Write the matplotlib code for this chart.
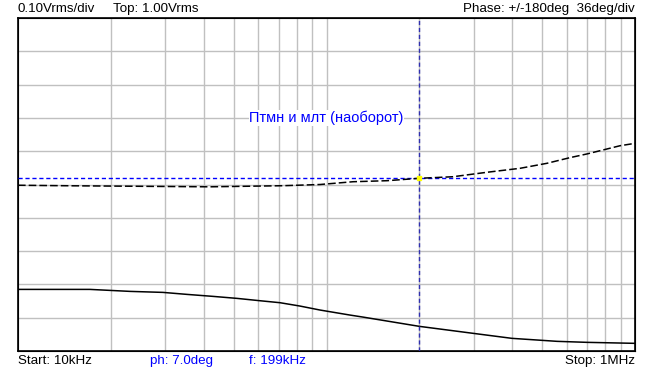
import numpy as np
import matplotlib
matplotlib.use("Agg")
import matplotlib.pyplot as plt

# amplitude trace (frequency in kHz, level in Vrms)
amp_freq = [10, 17.1, 23.1, 29.5, 35.3, 42.9, 51.3, 60.8, 70.7, 82.0, 95.3,
            119, 131, 200, 299, 399, 559, 698, 1000]
amp_vrms = [0.185, 0.185, 0.179, 0.176, 0.170, 0.164, 0.158, 0.151, 0.145,
            0.135, 0.123, 0.108, 0.102, 0.074, 0.053, 0.038, 0.029, 0.026,
            0.023]

# phase trace (frequency in kHz, phase in degrees)
ph_freq = [10, 15.1, 41.9, 72.3, 95.3, 122, 157, 200, 257, 331, 424, 518,
           615, 698, 787, 894, 1000]
ph_deg = [-0.8, -1.4, -2.5, -1.3, 0.0, 3.0, 4.1, 6.7, 8.4, 13.2, 17.5, 22.9,
          29.0, 33.0, 37.3, 41.9, 44.5]

cursor_f = 200     # kHz
cursor_ph = 7.0    # deg

fig = plt.figure(figsize=(6.53, 3.69), dpi=100)
W, H = 653, 369
ax = fig.add_axes([18 / W, (H - 351) / H, 617 / W, 333 / H])
ax.set_xscale("log")
ax.set_xlim(10, 1000)
ax.set_ylim(0, 1.0)

# grid
grid_c = "#c0c0c0"
for dec in (10, 100):
    for k in range(1, 10):
        f = dec * k
        if 10 < f < 1000:
            ax.axvline(f, color=grid_c, lw=1, zorder=1)
for v in np.arange(0.1, 1.0, 0.1):
    ax.axhline(v, color=grid_c, lw=1, zorder=1)

ax.set_xticks([])
ax.set_yticks([])
ax.minorticks_off()
for s in ax.spines.values():
    s.set_color("black")
    s.set_linewidth(1.2)

ax.plot(amp_freq, amp_vrms, color="black", lw=1.1, zorder=4)

ax2 = ax.twinx()
ax2.set_ylim(-180, 180)
ax2.set_yticks([])
ax2.set_xticks([])
ax2.minorticks_off()
ax2.plot(ph_freq, ph_deg, color="black", lw=1.1, ls=(0, (5, 2)), zorder=4)
ax2.axhline(cursor_ph, color="#0000ff", lw=1, ls=(0, (3, 2)), zorder=3)
ax2.axvline(cursor_f, color="#3030b0", lw=1, ls=(0, (3, 2)), zorder=3)
ax2.plot([cursor_f], [cursor_ph], marker="s", ms=2.5, color="yellow",
         mec="yellow", zorder=5)

ax.text(100, 0.70, "Птмн и млт (наоборот)", color="#0000ff", fontsize=10.5,
        ha="center", va="center", family="Liberation Sans", zorder=6,
        bbox=dict(facecolor="white", edgecolor="none", pad=0.5))

tk = dict(fontsize=9.6, family="Liberation Sans")
fig.text(18 / W, 1 - 9 / H, "0.10Vrms/div", ha="left", va="center", **tk)
fig.text(113 / W, 1 - 9 / H, "Top: 1.00Vrms", ha="left", va="center", **tk)
fig.text(635 / W, 1 - 9 / H, "Phase: +/-180deg  36deg/div", ha="right",
         va="center", **tk)
fig.text(18 / W, 1 - 361 / H, "Start: 10kHz", ha="left", va="center", **tk)
fig.text(150 / W, 1 - 361 / H, "ph: 7.0deg", ha="left", va="center",
         color="#0000ff", **tk)
fig.text(249 / W, 1 - 361 / H, "f: 199kHz", ha="left", va="center",
         color="#0000ff", **tk)
fig.text(635 / W, 1 - 361 / H, "Stop: 1MHz", ha="right", va="center", **tk)

fig.savefig("out.png", dpi=100)
